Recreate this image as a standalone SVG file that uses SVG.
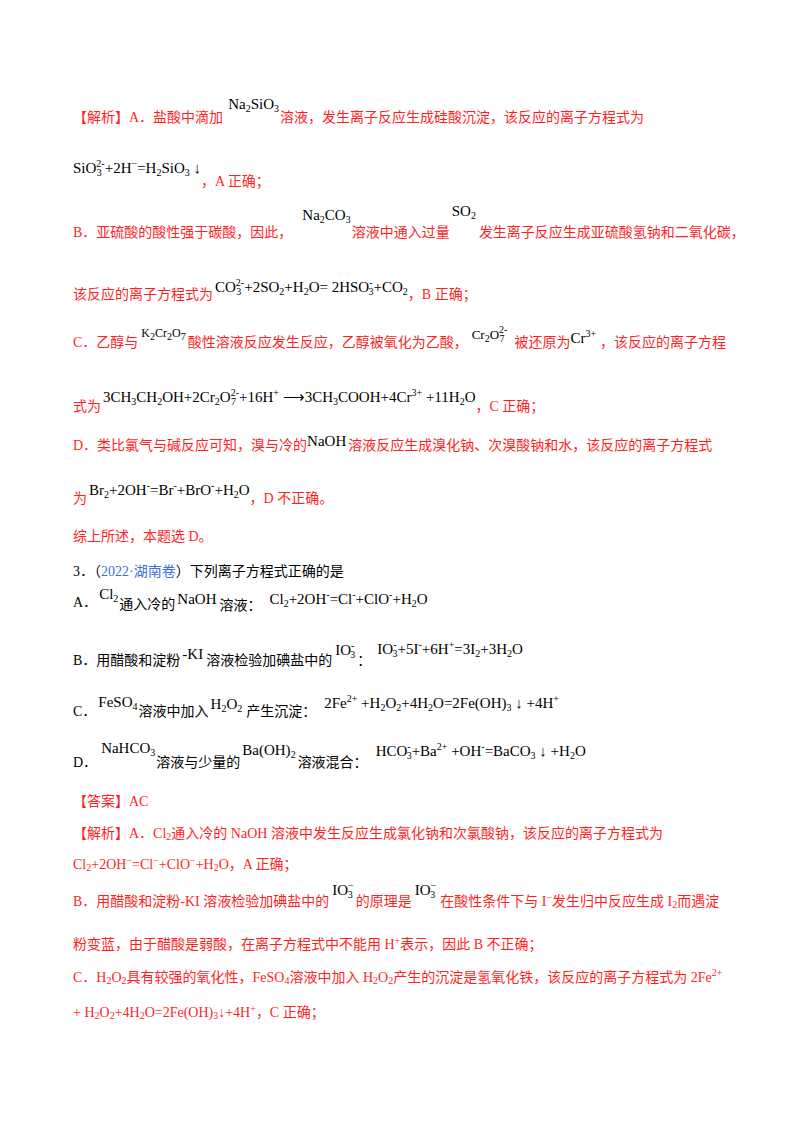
<svg xmlns="http://www.w3.org/2000/svg" width="800" height="1132" viewBox="0 0 800 1132">
<style>
text{font-family:"Liberation Serif","Noto Sans CJK SC",serif;font-size:14px}
.r{fill:#ff1f1f}
.k{fill:#000}
.m{fill:#000;font-family:"Liberation Serif",serif;font-size:15px}
.s{font-size:10px}
.b{fill:#3a6fd8}
</style>
<rect width="800" height="1132" fill="#fff"/>
<g id="p1">
<text class="r" x="73" y="122">【解析】A．盐酸中滴加<tspan class="m" dx="5" dy="-13">Na<tspan class="s" dy="3">2</tspan><tspan dy="-3">SiO</tspan><tspan class="s" dy="3">3</tspan></tspan><tspan dx="1" dy="10">溶液，发生离子反应生成硅酸沉淀，该反应的离子方程式为</tspan></text>
<text class="m" x="73" y="173">SiO<tspan class="s" dy="-6">2-</tspan><tspan class="s" dx="-8" dy="9">3</tspan><tspan dx="3" dy="-3">+2H</tspan><tspan class="s" dy="-6">−</tspan><tspan dy="6">=H</tspan><tspan class="s" dy="3">2</tspan><tspan dy="-3">SiO</tspan><tspan class="s" dy="3">3</tspan><tspan dy="-3"> ↓</tspan><tspan class="r" style="font-family:'Liberation Serif','Noto Sans CJK SC',serif;font-size:14px" dy="13">，A 正确；</tspan></text>
</g>
<g id="p2">
<text class="r" x="73" y="237">B．亚硫酸的酸性强于碳酸，因此，<tspan class="m" dx="10" dy="-17">Na<tspan class="s" dy="3">2</tspan><tspan dy="-3">CO</tspan><tspan class="s" dy="3">3</tspan></tspan><tspan dx="1" dy="14">溶液中通入过量</tspan><tspan class="m" dx="2" dy="-21">SO<tspan class="s" dy="3">2</tspan></tspan><tspan dx="3" dy="18">发生离子反应生成亚硫酸氢钠和二氧化碳，</tspan></text>
<text class="r" x="73" y="299">该反应的离子方程式为<tspan class="m" dx="2" dy="-7">CO<tspan class="s" dy="-6">2-</tspan><tspan class="s" dx="-8" dy="9">3</tspan><tspan dx="3" dy="-3">+2SO</tspan><tspan class="s" dy="3">2</tspan><tspan dy="-3">+H</tspan><tspan class="s" dy="3">2</tspan><tspan dy="-3">O= 2HSO</tspan><tspan class="s" dy="-6">-</tspan><tspan class="s" dx="-4" dy="9">3</tspan><tspan dy="-3">+CO</tspan><tspan class="s" dy="3">2</tspan></tspan><tspan dy="4">，B 正确；</tspan></text>
</g>
<g id="p3">
<text class="r" x="73" y="347">C．乙醇与<tspan class="m" style="font-size:12px" dx="3" dy="-10">K<tspan class="s" dy="3">2</tspan><tspan dy="-3">Cr</tspan><tspan class="s" dy="3">2</tspan><tspan dy="-3">O</tspan><tspan class="s" dy="3">7</tspan></tspan><tspan dx="2" dy="7">酸性溶液反应发生反应，乙醇被氧化为乙酸，</tspan><tspan class="m" style="font-size:13px" dx="4" dy="-8">Cr<tspan class="s" dy="3">2</tspan><tspan dy="-3">O</tspan><tspan class="s" dy="-6">2-</tspan><tspan class="s" dx="-8" dy="9">7</tspan></tspan><tspan dx="10" dy="5">被还原为</tspan><tspan class="m" dy="-4">Cr<tspan class="s" dy="-6">3+</tspan></tspan><tspan dx="4" dy="10">，该反应的离子方程</tspan></text>
<text class="r" x="73" y="411">式为<tspan class="m" dx="2" dy="-9">3CH<tspan class="s" dy="3">3</tspan><tspan dy="-3">CH</tspan><tspan class="s" dy="3">2</tspan><tspan dy="-3">OH+2Cr</tspan><tspan class="s" dy="3">2</tspan><tspan dy="-3">O</tspan><tspan class="s" dy="-6">2-</tspan><tspan class="s" dx="-8" dy="9">7</tspan><tspan dx="3" dy="-3">+16H</tspan><tspan class="s" dy="-6">+</tspan><tspan dy="6"> ⟶3CH</tspan><tspan class="s" dy="3">3</tspan><tspan dy="-3">COOH+4Cr</tspan><tspan class="s" dy="-6">3+</tspan><tspan dy="6"> +11H</tspan><tspan class="s" dy="3">2</tspan><tspan dy="-3">O</tspan></tspan><tspan dy="9">，C 正确；</tspan></text>
</g>
<g id="p4">
<text class="r" x="73" y="450">D．类比氯气与碱反应可知，溴与冷的<tspan class="m" dy="-4">NaOH</tspan><tspan dx="2" dy="4">溶液反应生成溴化钠、次溴酸钠和水，该反应的离子方程式</tspan></text>
<text class="r" x="73" y="503">为<tspan class="m" dx="2" dy="-8">Br<tspan class="s" dy="3">2</tspan><tspan dy="-3">+2OH</tspan><tspan class="s" dy="-6">-</tspan><tspan dy="6">=Br</tspan><tspan class="s" dy="-6">-</tspan><tspan dy="6">+BrO</tspan><tspan class="s" dy="-6">-</tspan><tspan dy="6">+H</tspan><tspan class="s" dy="3">2</tspan><tspan dy="-3">O</tspan></tspan><tspan dy="8">，D 不正确。</tspan></text>
<text class="r" x="73" y="541">综上所述，本题选 D。</text>
</g>
<g id="q3">
<text class="k" x="73" y="576">3．（<tspan class="b">2022·湖南卷</tspan>）下列离子方程式正确的是</text>
<text class="k" x="73" y="607">A．<tspan class="m" dx="2" dy="-8">Cl<tspan class="s" dy="3">2</tspan></tspan><tspan dx="1" dy="7">通入冷的</tspan><tspan class="m" dx="2" dy="-5">NaOH</tspan><tspan dx="3" dy="6">溶液：</tspan><tspan class="m" dx="8" dy="-6">Cl<tspan class="s" dy="3">2</tspan><tspan dy="-3">+2OH</tspan><tspan class="s" dy="-6">-</tspan><tspan dy="6">=Cl</tspan><tspan class="s" dy="-6">-</tspan><tspan dy="6">+ClO</tspan><tspan class="s" dy="-6">-</tspan><tspan dy="6">+H</tspan><tspan class="s" dy="3">2</tspan><tspan dy="-3">O</tspan></tspan></text>
<text class="k" x="73" y="665">B．用醋酸和淀粉<tspan class="m" dx="2" dy="-6">-KI</tspan><tspan dx="3" dy="6">溶液检验加碘盐中的</tspan><tspan class="m" dx="3" dy="-10">IO<tspan class="s" dy="-6">-</tspan><tspan class="s" dx="-4" dy="9">3</tspan></tspan><tspan dx="2" dy="7">：</tspan><tspan class="m" dx="6" dy="-11">IO<tspan class="s" dy="-6">-</tspan><tspan class="s" dx="-4" dy="9">3</tspan><tspan dy="-3">+5I</tspan><tspan class="s" dy="-6">-</tspan><tspan dy="6">+6H</tspan><tspan class="s" dy="-6">+</tspan><tspan dy="6">=3I</tspan><tspan class="s" dy="3">2</tspan><tspan dy="-3">+3H</tspan><tspan class="s" dy="3">2</tspan><tspan dy="-3">O</tspan></tspan></text>
<text class="k" x="73" y="716">C．<tspan class="m" dx="2" dy="-9">FeSO<tspan class="s" dy="3">4</tspan></tspan><tspan dx="1" dy="6">溶液中加入</tspan><tspan class="m" dx="2" dy="-7">H<tspan class="s" dy="3">2</tspan><tspan dy="-3">O</tspan><tspan class="s" dy="3">2</tspan></tspan><tspan dx="4" dy="4">产生沉淀：</tspan><tspan class="m" dx="8" dy="-8">2Fe<tspan class="s" dy="-6">2+</tspan><tspan dy="6"> +H</tspan><tspan class="s" dy="3">2</tspan><tspan dy="-3">O</tspan><tspan class="s" dy="3">2</tspan><tspan dy="-3">+4H</tspan><tspan class="s" dy="3">2</tspan><tspan dy="-3">O=2Fe(OH)</tspan><tspan class="s" dy="3">3</tspan><tspan dy="-3"> ↓ +4H</tspan><tspan class="s" dy="-6">+</tspan></tspan></text>
<text class="k" x="73" y="767">D．<tspan class="m" dx="4" dy="-14">NaHCO<tspan class="s" dy="3">3</tspan></tspan><tspan dx="1" dy="11">溶液与少量的</tspan><tspan class="m" dx="2" dy="-12">Ba(OH)<tspan class="s" dy="3">2</tspan></tspan><tspan dx="2" dy="9">溶液混合：</tspan><tspan class="m" dx="8" dy="-11">HCO<tspan class="s" dy="-6">-</tspan><tspan class="s" dx="-4" dy="9">3</tspan><tspan dy="-3">+Ba</tspan><tspan class="s" dy="-6">2+</tspan><tspan dy="6"> +OH</tspan><tspan class="s" dy="-6">-</tspan><tspan dy="6">=BaCO</tspan><tspan class="s" dy="3">3</tspan><tspan dy="-3"> ↓ +H</tspan><tspan class="s" dy="3">2</tspan><tspan dy="-3">O</tspan></tspan></text>
</g>
<g id="ans">
<text class="r" x="73" y="806">【答案】AC</text>
<text class="r" x="73" y="838">【解析】A．Cl<tspan class="s" dy="2">2</tspan><tspan dy="-2">通入冷的 NaOH 溶液中发生反应生成氯化钠和次氯酸钠，该反应的离子方程式为</tspan></text>
<text class="r" x="73" y="869">Cl<tspan class="s" dy="2">2</tspan><tspan dy="-2">+2OH</tspan><tspan class="s" dy="-5">−</tspan><tspan dy="5">=Cl</tspan><tspan class="s" dy="-5">−</tspan><tspan dy="5">+ClO</tspan><tspan class="s" dy="-5">−</tspan><tspan dy="5">+H</tspan><tspan class="s" dy="2">2</tspan><tspan dy="-2">O，A 正确；</tspan></text>
<text class="r" x="73" y="906">B．用醋酸和淀粉-KI 溶液检验加碘盐中的<tspan class="m" dx="3" dy="-11">IO<tspan class="s" dy="-6">−</tspan><tspan class="s" dx="-6" dy="9">3</tspan></tspan><tspan dx="3" dy="8">的原理是</tspan><tspan class="m" dx="3" dy="-11">IO<tspan class="s" dy="-6">−</tspan><tspan class="s" dx="-6" dy="9">3</tspan></tspan><tspan dx="5" dy="8">在酸性条件下与 I</tspan><tspan class="s" dy="-5">−</tspan><tspan dy="5">发生归中反应生成 I</tspan><tspan class="s" dy="2">2</tspan><tspan dy="-2">而遇淀</tspan></text>
<text class="r" x="73" y="949">粉变蓝，由于醋酸是弱酸，在离子方程式中不能用 H<tspan class="s" dy="-5">+</tspan><tspan dy="5">表示，因此 B 不正确；</tspan></text>
<text class="r" x="73" y="982">C．H<tspan class="s" dy="2">2</tspan><tspan dy="-2">O</tspan><tspan class="s" dy="2">2</tspan><tspan dy="-2">具有较强的氧化性，FeSO</tspan><tspan class="s" dy="2">4</tspan><tspan dy="-2">溶液中加入 H</tspan><tspan class="s" dy="2">2</tspan><tspan dy="-2">O</tspan><tspan class="s" dy="2">2</tspan><tspan dy="-2">产生的沉淀是氢氧化铁，该反应的离子方程式为 2Fe</tspan><tspan class="s" dy="-6">2+</tspan></text>
<text class="r" x="73" y="1017">+ H<tspan class="s" dy="2">2</tspan><tspan dy="-2">O</tspan><tspan class="s" dy="2">2</tspan><tspan dy="-2">+4H</tspan><tspan class="s" dy="2">2</tspan><tspan dy="-2">O=2Fe(OH)</tspan><tspan class="s" dy="2">3</tspan><tspan dy="-2">↓+4H</tspan><tspan class="s" dy="-5">+</tspan><tspan dy="5">，C 正确；</tspan></text>
</g>
</svg>
